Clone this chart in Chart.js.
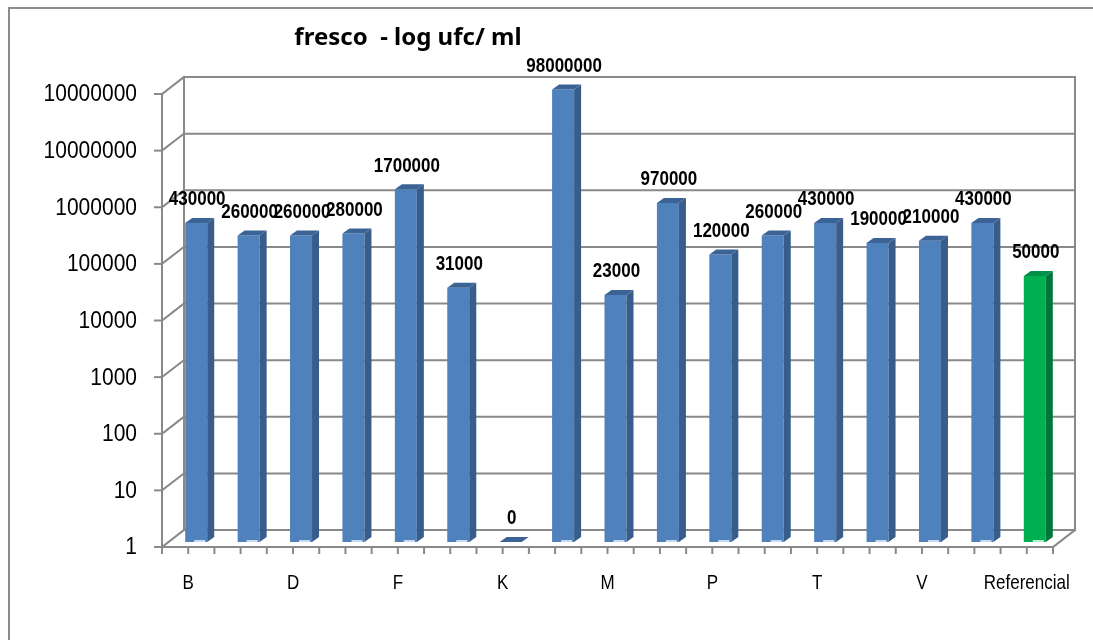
<!DOCTYPE html>
<html>
<head>
<meta charset="utf-8">
<script src="https://cdn.jsdelivr.net/npm/chart.js@4.4.1/dist/chart.umd.min.js"></script>
<style>
  body { margin: 0; background: #fff; }
  canvas { display: block; }
</style>
</head>
<body>
<canvas id="chart" width="1093" height="640"></canvas>
<script>
// categories (only every other one is printed on the axis)
const categories = ['B', '', 'D', '', 'F', '', 'K', '', 'M', '', 'P', '', 'T', '', 'V', '', 'Referencial'];
const values = [430000, 260000, 260000, 280000, 1700000, 31000, 0, 98000000, 23000, 970000, 120000, 260000, 430000, 190000, 210000, 430000, 50000];
const yTickValues = [1, 10, 100, 1000, 10000, 100000, 1000000, 10000000, 100000000];
const yTickLabels = ['1', '10', '100', '1000', '10000', '100000', '1000000', '10000000', '10000000'];
const chartTitle = 'fresco  - log ufc/ ml';

// colours
const BLUE = { front: '#4F81BD', side: '#385D8A', top: '#3B6395', base: '#C9DAF0' };
const GREEN = { front: '#00B050', side: '#00773A', top: '#00904A', base: '#B8EBCB' };
const GRID = '#898989';

// 3d offsets relative to the bar plane
const FRONT = { dx: -8, dy: 5 };
const BACK = { dx: 14, dy: -12 };
const DEPTH = { dx: 7, dy: -5 };

const colorFor = (i) => (categories[i] === 'Referencial' ? GREEN : BLUE);

const line = (ctx, x1, y1, x2, y2) => {
  ctx.beginPath();
  ctx.moveTo(x1, y1);
  ctx.lineTo(x2, y2);
  ctx.stroke();
};

const poly = (ctx, pts, color) => {
  ctx.beginPath();
  ctx.moveTo(pts[0][0], pts[0][1]);
  pts.slice(1).forEach(p => ctx.lineTo(p[0], p[1]));
  ctx.closePath();
  ctx.fillStyle = color;
  ctx.fill();
};

// text slightly stretched vertically, like the original export
const tallText = (ctx, text, x, y, sy) => {
  ctx.save();
  ctx.translate(x, y);
  ctx.scale(1, sy);
  ctx.fillText(text, 0, 0);
  ctx.restore();
};

// back wall, side wall, floor and front axes
const wallsPlugin = {
  id: 'walls',
  beforeDatasetsDraw(chart) {
    const { ctx, chartArea, scales } = chart;
    const ys = scales.y;
    const left = chartArea.left;
    const right = chartArea.right;
    const yMin = ys.getPixelForValue(yTickValues[0]);
    const yMax = ys.getPixelForValue(yTickValues[yTickValues.length - 1]);

    ctx.save();
    ctx.strokeStyle = GRID;
    ctx.lineWidth = 2;
    ctx.lineCap = 'square';

    yTickValues.forEach(v => {
      const y = ys.getPixelForValue(v);
      line(ctx, left + BACK.dx, y + BACK.dy, right + BACK.dx, y + BACK.dy);
      line(ctx, left + FRONT.dx, y + FRONT.dy, left + BACK.dx, y + BACK.dy);
      line(ctx, left + FRONT.dx - 7, y + FRONT.dy, left + FRONT.dx, y + FRONT.dy);
    });

    line(ctx, left + FRONT.dx, yMax + FRONT.dy, left + FRONT.dx, yMin + FRONT.dy);
    line(ctx, left + BACK.dx, yMax + BACK.dy, left + BACK.dx, yMin + BACK.dy);
    line(ctx, right + BACK.dx, yMax + BACK.dy, right + BACK.dx, yMin + BACK.dy);

    // floor
    line(ctx, left + FRONT.dx, yMin + FRONT.dy, right + FRONT.dx, yMin + FRONT.dy);
    line(ctx, right + FRONT.dx, yMin + FRONT.dy, right + BACK.dx, yMin + BACK.dy);

    // category ticks
    const cw = (right - left) / categories.length;
    for (let i = 0; i <= categories.length * 2; i++) {
      const x = left + i * cw / 2 + FRONT.dx;
      line(ctx, x, yMin + FRONT.dy, x, yMin + FRONT.dy + 6);
    }
    ctx.restore();
  },
  afterDatasetsDraw(chart) {
    const { ctx, chartArea, scales } = chart;
    const ys = scales.y;
    const xs = scales.x;
    const meta = chart.getDatasetMeta(0);
    const yBase = ys.getPixelForValue(1);
    const w = meta.data.find(b => b && !isNaN(b.width)).width;

    ctx.save();
    // side and top faces
    values.forEach((v, i) => {
      const c = colorFor(i);
      const x = xs.getPixelForValue(i);
      const top = v > 0 ? ys.getPixelForValue(v) : yBase;
      const l = x - w / 2;
      const r = x + w / 2;
      poly(ctx, [[r, top], [r + DEPTH.dx, top + DEPTH.dy], [r + DEPTH.dx, yBase + DEPTH.dy], [r, yBase]], c.side);
      poly(ctx, [[l, top], [l + DEPTH.dx, top + DEPTH.dy], [r + DEPTH.dx, top + DEPTH.dy], [r, top]], c.top);
      if (v > 0) {
        ctx.fillStyle = c.base;
        ctx.fillRect(x - 2, yBase - 2, w / 2, 2);
      }
    });

    // value labels
    ctx.fillStyle = '#000';
    ctx.font = 'bold 17px "Liberation Sans", Arial, sans-serif';
    ctx.textAlign = 'center';
    ctx.textBaseline = 'middle';
    values.forEach((v, i) => {
      const x = xs.getPixelForValue(i);
      const top = v > 0 ? ys.getPixelForValue(v) : yBase;
      tallText(ctx, String(v), x + 1, top - 23, 1.15);
    });

    // y tick labels
    ctx.font = '21px "Liberation Sans", Arial, sans-serif';
    ctx.textAlign = 'right';
    yTickValues.forEach((v, i) => {
      const y = ys.getPixelForValue(v) + FRONT.dy;
      tallText(ctx, yTickLabels[i], chartArea.left + FRONT.dx - 25, y + 1, 1.1);
    });

    // category labels
    ctx.font = '17px "Liberation Sans", Arial, sans-serif';
    ctx.textAlign = 'center';
    categories.forEach((name, i) => {
      if (!name) return;
      const x = xs.getPixelForValue(i) + FRONT.dx;
      tallText(ctx, name, x, yBase + FRONT.dy + 36, 1.18);
    });

    // title
    ctx.font = 'bold 24px "Noto Sans", "Open Sans", sans-serif';
    ctx.fillText(chartTitle, 408, 38);

    // outer frame
    ctx.strokeStyle = '#8c8c8c';
    ctx.lineWidth = 2;
    ctx.beginPath();
    ctx.moveTo(9, 640);
    ctx.lineTo(9, 8);
    ctx.lineTo(1093, 8);
    ctx.stroke();
    ctx.restore();
  }
};

new Chart(document.getElementById('chart'), {
  type: 'bar',
  data: {
    labels: categories,
    datasets: [{
      data: values,
      backgroundColor: values.map((v, i) => colorFor(i).front),
      borderWidth: 0,
      barPercentage: 0.42,
      categoryPercentage: 1
    }]
  },
  options: {
    responsive: false,
    devicePixelRatio: 1,
    animation: false,
    layout: { padding: { left: 170, right: 32, top: 89, bottom: 98 } },
    scales: {
      x: { display: false },
      y: { type: 'logarithmic', min: 1, max: 100000000, display: false }
    },
    plugins: {
      legend: { display: false },
      tooltip: { enabled: false },
      title: { display: false }
    }
  },
  plugins: [wallsPlugin]
});
</script>
</body>
</html>
